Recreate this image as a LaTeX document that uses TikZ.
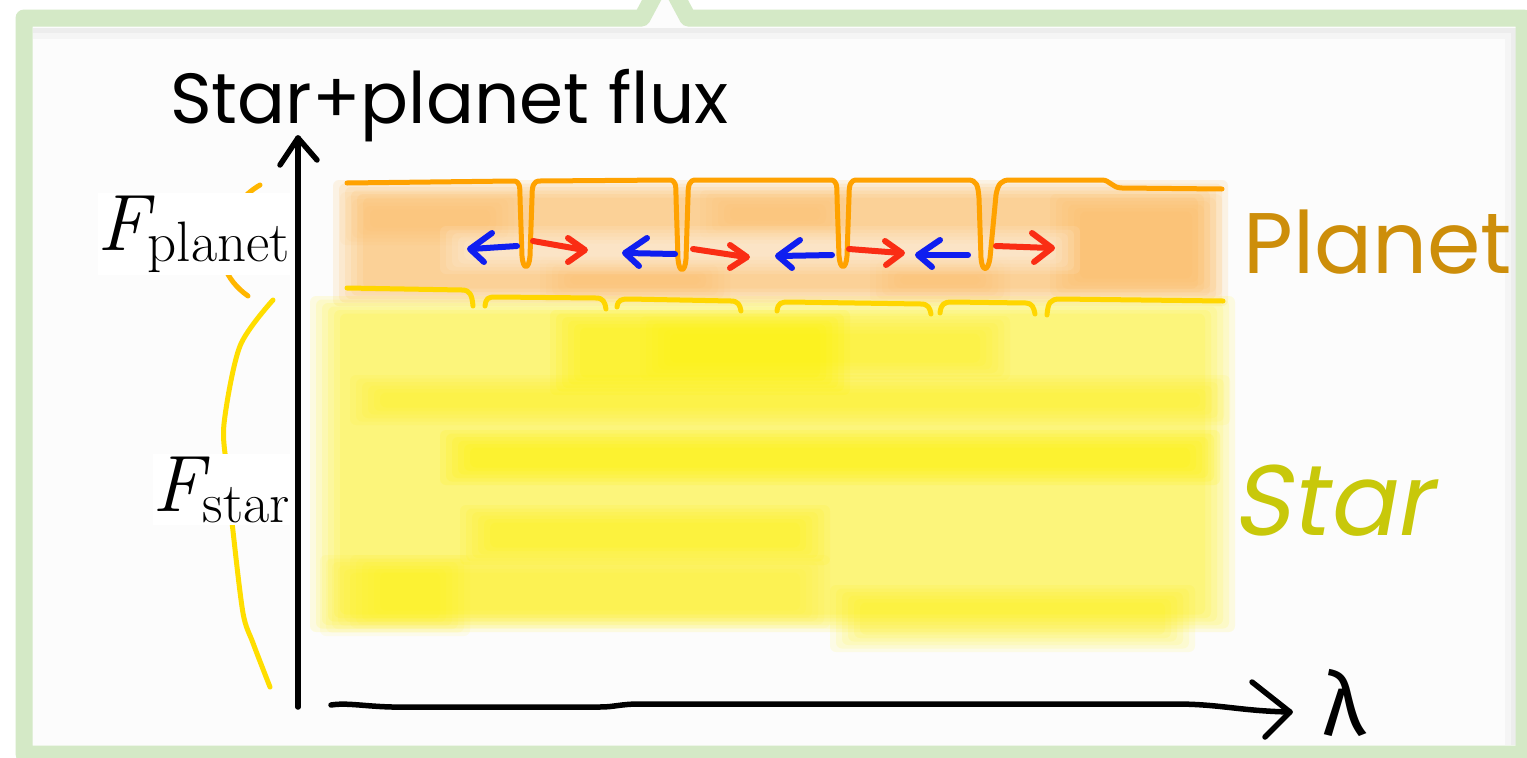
\documentclass[tikz,border=0pt]{standalone}
\usepackage{fontspec}
\newfontfamily\hand{Poppins}
\newfontfamily\handsl[FakeSlant=0.18]{Poppins}
\newfontfamily\greekf{Fira Sans}
\definecolor{frameG}{RGB}{212,233,198}
\definecolor{bgC}{RGB}{252,252,252}
\definecolor{orBand}{RGB}{251,185,90}
\definecolor{yeBand}{RGB}{255,242,0}
\definecolor{orLine}{RGB}{255,162,0}
\definecolor{yeLine}{RGB}{255,214,0}
\definecolor{orBrace}{RGB}{255,182,0}
\definecolor{yeBrace}{RGB}{255,222,0}
\definecolor{planetC}{RGB}{205,142,10}
\definecolor{starC}{RGB}{200,200,10}
\definecolor{arrBlue}{RGB}{15,30,240}
\definecolor{arrRed}{RGB}{250,45,20}
\newcommand\soft[6]{%
  \foreach \k in {0,1,2,3,4,5}{\fill[#5,opacity=#6,rounded corners=6pt] ({#1+6*\k},{#2+3.5*\k}) rectangle ({#3-6*\k},{#4-3.5*\k});}}
\newcommand\fsub[1]{{\fontsize{80}{84}\selectfont\itshape F}\kern-1pt\raisebox{-11pt}{\fontsize{57}{60}\selectfont #1}}
\tikzset{
  axisline/.style={line width=5.5pt, black, line cap=round, line join=round},
  specline/.style={line width=5pt, line cap=round, line join=round},
  bluearrow/.style={line width=6pt, arrBlue, line cap=round, line join=round},
  redarrow/.style={line width=6pt, arrRed, line cap=round, line join=round},
  flabel/.style={fill=white, inner xsep=0pt, inner ysep=3pt},
}
\begin{document}
\begin{tikzpicture}[x=1pt,y=-1pt]
\useasboundingbox (0,0) rectangle (1527,758);
\clip (0,0) rectangle (1527,758);
\fill[white] (0,0) rectangle (1527,758);
% frame
\fill[bgC] (24,18) -- (642,18) -- (657,-10) -- (673,-10) -- (688,18) -- (1524,18) -- (1524,754) -- (24,754) -- cycle;
\draw[black!7, line width=6pt] (33,31) -- (1513,31) -- (1513,745);
\draw[black!4, line width=6pt] (33,36) -- (1508,36) -- (1508,745);
\draw[frameG, line width=17pt, line join=round] (24,18) -- (642,18) -- (657,-10) -- (673,-10) -- (688,18) -- (1524,18) -- (1524,754) -- (24,754) -- cycle;
% planet band
\soft{333}{180}{1228}{306}{orBand}{0.145}
\soft{340}{192}{520}{245}{orBand}{0.07}
\soft{540}{258}{730}{302}{orBand}{0.07}
\soft{700}{190}{850}{238}{orBand}{0.07}
\soft{870}{258}{1010}{302}{orBand}{0.07}
\soft{1050}{194}{1222}{296}{orBand}{0.1}
\soft{440}{226}{1080}{274}{white}{0.1}
% star band
\soft{310}{296}{1235}{632}{yeBand}{0.11}
\soft{550}{310}{850}{395}{yeBand}{0.12}
\soft{640}{316}{1010}{380}{yeBand}{0.08}
\soft{350}{375}{1230}{425}{yeBand}{0.08}
\soft{440}{430}{1220}{485}{yeBand}{0.14}
\soft{460}{505}{830}{565}{yeBand}{0.1}
\soft{350}{555}{830}{628}{yeBand}{0.06}
\soft{830}{585}{1195}{652}{yeBand}{0.09}
\soft{320}{555}{470}{636}{yeBand}{0.07}
% planet spectrum line
\draw[specline, orLine] (347,183) -- (513,181)
  .. controls (520,181) and (520,186) .. (520,198) -- (522,256) .. controls (523,270) and (529,270) .. (530,256) -- (532,198) .. controls (532,186) and (533,181) .. (540,181)
  -- (669,180) .. controls (676,180) and (676,185) .. (676,197) -- (678,259) .. controls (679,273) and (685,273) .. (686,259) -- (688,197) .. controls (688,185) and (689,180) .. (696,180)
  -- (830,180) .. controls (837,180) and (837,185) .. (837,197) -- (839,256) .. controls (840,270) and (846,270) .. (847,256) -- (849,197) .. controls (849,185) and (850,180) .. (857,180)
  -- (968,180) .. controls (977,180) and (978,186) .. (979,198) -- (981,258) .. controls (982,272) and (988,272) .. (990,258) -- (996,195) .. controls (998,184) and (1001,180) .. (1010,180)
  -- (1102,180) .. controls (1110,180) and (1112,188) .. (1122,188) -- (1222,189);
% star spectrum line
\draw[specline, yeLine] (347,288) -- (462,290) .. controls (470,290) and (472,295) .. (473,306);
\draw[specline, yeLine] (485,306) .. controls (486,298) and (488,297) .. (496,297) -- (596,298) .. controls (603,298) and (605,302) .. (606,309);
\draw[specline, yeLine] (617,307) .. controls (618,300) and (621,299) .. (629,299) -- (731,301) .. controls (738,301) and (740,305) .. (741,311);
\draw[specline, yeLine] (777,311) .. controls (778,303) and (781,302) .. (789,302) -- (921,304) .. controls (928,304) and (930,308) .. (931,314);
\draw[specline, yeLine] (940,313) .. controls (941,304) and (944,302) .. (952,302) -- (1026,303) .. controls (1032,303) and (1034,308) .. (1035,314);
\draw[specline, yeLine] (1047,315) .. controls (1048,303) and (1050,299) .. (1060,299) -- (1223,301);
% shift arrows
\draw[bluearrow] (517,246) -- (471,249);
\draw[bluearrow] (492,233) -- (470,249) -- (484,262);
\draw[redarrow] (533,241) -- (584,250);
\draw[redarrow] (568,238) -- (585,250) -- (568,262);
\draw[bluearrow] (675,254) -- (626,253);
\draw[bluearrow] (647,238) -- (625,253) -- (639,266);
\draw[redarrow] (693,249) -- (746,257);
\draw[redarrow] (730,245) -- (747,257) -- (730,268);
\draw[bluearrow] (832,255) -- (779,256);
\draw[bluearrow] (800,240) -- (778,256) -- (792,268);
\draw[redarrow] (849,249) -- (901,253);
\draw[redarrow] (885,241) -- (902,253) -- (886,265);
\draw[bluearrow] (968,255) -- (919,255);
\draw[bluearrow] (940,240) -- (918,255) -- (932,267);
\draw[redarrow] (996,246) -- (1051,248);
\draw[redarrow] (1032,233) -- (1052,248) -- (1034,262);
% braces
\draw[line width=5pt, orBrace, line cap=round] (260,185) .. controls (225,205) and (200,262) .. (248,296);
\draw[line width=5pt, yeBrace, line cap=round] plot[smooth] coordinates {(273,300) (240,346) (224,424) (227,470) (233,531) (243,613) (253,643) (270,687)};
% labels
\node[flabel, anchor=base east] (fplanet) at (290,250) {\fsub{planet}};
\node[flabel, anchor=base east] (fstar) at (290,511) {\fsub{star}};
\node[anchor=base west, inner sep=0pt, font=\hand\fontsize{71}{75}\selectfont] (title) at (170,123) {Star+planet flux};
\node[anchor=base west, inner sep=0pt, text=planetC, font=\hand\fontsize{86}{90}\selectfont] (planet) at (1243,273) {Planet};
\node[anchor=base west, inner sep=0pt, text=starC, font=\handsl\fontsize{100}{100}\selectfont] (star) at (1232,535) {Star};
\node[anchor=base west, inner sep=0pt, font=\greekf\fontsize{88}{90}\selectfont] (lam) at (1322,735) {λ};
% axes
\coordinate (origin) at (298,707);
\coordinate (ytip) at (298,138);
\coordinate (xstart) at (331,705);
\coordinate (xtip) at (1290,712);
\draw[axisline] (origin) -- (ytip);
\draw[axisline] (280,165) -- (ytip) -- (317,160);
\draw[axisline] (xstart) .. controls (350,702) and (370,708) .. (410,707) -- (600,707) .. controls (615,707) and (620,704) .. (640,704) -- (1175,704) .. controls (1220,704) and (1240,711) .. (xtip);
\draw[axisline] (1252,682) -- (xtip) -- (1265,737);
\end{tikzpicture}
\end{document}
